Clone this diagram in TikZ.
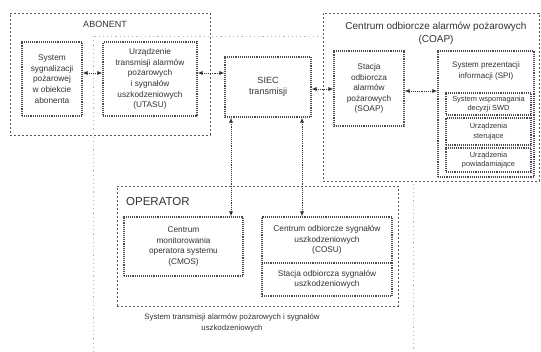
\documentclass[tikz,border=0pt]{standalone}
\usepackage{fontspec}
\setmainfont{Liberation Sans}
\usetikzlibrary{arrows.meta}
\begin{document}
\begin{tikzpicture}[x=1pt,y=-1pt,
  faint/.style={draw=black!28, line width=0.8pt, dash pattern=on 1.2pt off 3pt},
  group/.style={draw=black!65, line width=1pt, dash pattern=on 1.6pt off 2.4pt},
  box/.style={draw=black!70, line width=1.1pt, densely dotted, fill=white, align=center,
    font=\fontsize{8.3}{10.6}\selectfont, text=black!80, inner sep=1pt},
  sub/.style={box, line width=1.4pt, font=\fontsize{7.4}{9.4}\selectfont},
  title/.style={text=black!80, align=center, inner sep=0pt},
  link/.style={draw=black!80, line width=0.9pt, densely dotted,
    {Latex[length=5pt,width=4pt]}-{Latex[length=5pt,width=4pt]}}
]
\useasboundingbox (0,0) rectangle (541,351);
\fill[white] (0,0) rectangle (541,351);

% outer faint system boundary
\draw[faint] (93,36) rectangle (413,362);

% groups
\node[group, minimum width=200pt, minimum height=122pt] (abonent) at (110,74) {};
\node[title, font=\fontsize{9}{11}\selectfont] (abonentT) at (105,24) {ABONENT};

\node[group, fill=white, minimum width=216pt, minimum height=168pt] (coap) at (431,97) {};
\node[title, font=\fontsize{10}{13}\selectfont] (coapT) at (436,33) {Centrum odbiorcze alarmów pożarowych\\(COAP)};

\node[group, fill=white, minimum width=281pt, minimum height=120pt] (operator) at (257.5,246) {};
\node[title, anchor=west, font=\fontsize{11.5}{13}\selectfont] (operatorT) at (126,202) {OPERATOR};

% abonent boxes
\node[box, minimum width=60pt, minimum height=74pt] (sys) at (52,79)
  {System\\sygnalizacji\\pożarowej\\w obiekcie\\abonenta};
\node[box, minimum width=94pt, minimum height=74pt] (utas) at (150,79)
  {Urządzenie\\transmisji alarmów\\pożarowych\\i sygnałów\\uszkodzeniowych\\(UTASU)};

% network
\node[box, minimum width=86pt, minimum height=60pt, font=\fontsize{9}{11.5}\selectfont] (siec) at (268,87)
  {SIEC\\transmisji};

% COAP boxes
\node[box, minimum width=70pt, minimum height=75pt] (soap) at (369,88.5)
  {Stacja\\odbiorcza\\alarmów\\pożarowych\\(SOAP)};
\node[box, minimum width=96pt, minimum height=126pt] (spi) at (486,114) {};
\node[title, font=\fontsize{8}{10.4}\selectfont] (spiT) at (486,71) {System prezentacji\\informacji (SPI)};
\node[sub, minimum width=85pt, minimum height=22pt] (swd) at (488.5,104)
  {System wspomagania\\decyzji SWD};
\node[sub, minimum width=85pt, minimum height=27pt] (ster) at (488.5,131.5)
  {Urządzenia\\sterujące};
\node[sub, minimum width=85pt, minimum height=24pt] (pow) at (488.5,160)
  {Urządzenia\\powiadamiające};

% operator boxes
\node[box, minimum width=119pt, minimum height=59pt] (cmos) at (183.5,246.5)
  {Centrum\\monitorowania\\operatora systemu\\(CMOS)};
\node[box, minimum width=130pt, minimum height=46pt] (cosu) at (327,240)
  {Centrum odbiorcze sygnałów\\uszkodzeniowych\\(COSU)};
\node[box, minimum width=130pt, minimum height=33pt] (stso) at (327,279.5)
  {Stacja odbiorcza sygnałów\\uszkodzeniowych};

% caption
\node[title, font=\fontsize{7.8}{11.5}\selectfont] (caption) at (232,323)
  {System transmisji alarmów pożarowych i sygnałów\\uszkodzeniowych};

% connector anchor points
\coordinate (c1) at ([yshift=6pt]sys.east);
\coordinate (c2) at ([yshift=6pt]utas.east);
\coordinate (c3) at ([yshift=-2pt]siec.east);
\coordinate (c4) at ([yshift=-2.5pt]soap.east);
\coordinate (c5) at ([xshift=47.5pt]cmos.north);
\coordinate (c6) at ([xshift=-25pt]cosu.north);

% connectors
\draw[link] (c1) -- (c1 -| utas.west);
\draw[link] (c2) -- (c2 -| siec.west);
\draw[link] (c3) -- (c3 -| soap.west);
\draw[link] (c4) -- (c4 -| spi.west);
\draw[link] (c5) -- (c5 |- siec.south);
\draw[link] (c6) -- (c6 |- siec.south);
\end{tikzpicture}
\end{document}
